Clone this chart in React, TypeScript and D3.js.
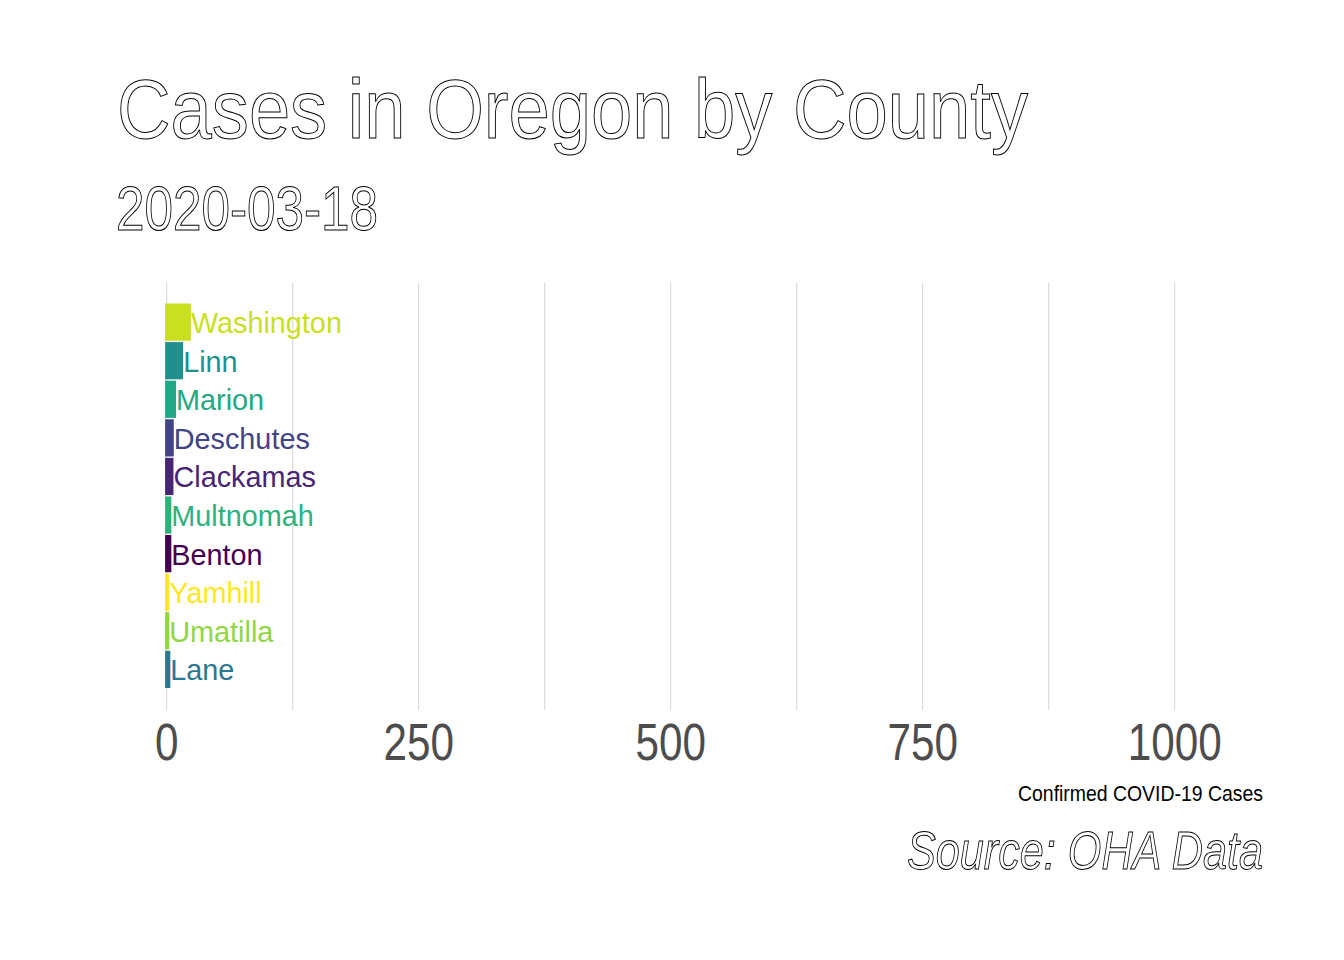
import React from 'react';
import * as d3 from 'd3';

// frame of 2020-03-18, top ten counties by confirmed cases
const counties = ['Washington', 'Linn', 'Marion', 'Deschutes', 'Clackamas', 'Multnomah', 'Benton', 'Yamhill', 'Umatilla', 'Lane'];
const cases = [24, 16.3, 9.3, 7, 6.7, 4.6, 4.6, 2.6, 2.6, 3.6];
const countyColors = ['#c8e020', '#21908d', '#22a884', '#414487', '#482475', '#2db27d', '#440154', '#fde725', '#8fd744', '#2a788e'];
const xTicks = [0, 250, 500, 750, 1000];
const xMinor = [125, 375, 625, 875];

const sans = '"Liberation Sans", Arial, sans-serif';

// no narrow face installed, so condensed text is squeezed to its width
const Narrow = ({ x, y, size, len, anchor = 'start', italic = false, outline = false, fill = '#000', children }: any) => (
    <text
        x={x}
        y={y}
        textAnchor={anchor}
        fontFamily={sans}
        fontSize={size}
        fontStyle={italic ? 'italic' : 'normal'}
        textLength={len}
        lengthAdjust="spacingAndGlyphs"
        fill={outline ? '#fff' : fill}
        stroke={outline ? '#000' : 'none'}
        strokeWidth={outline ? 1 : 0}
    >
        {children}
    </text>
);

const App = () => {
    const width = 1344;
    const height = 960;
    const panelTop = 283;
    const panelBottom = 710;

    const x = d3.scaleLinear().domain([0, 1000]).range([166.7, 1174.7]);
    const y = d3.scaleBand<string>()
        .domain(counties)
        .range([303.5, 688])
        .paddingInner(0.035)
        .paddingOuter(0);

    return (
        <svg width={width} height={height} style={{ position: 'absolute', left: 0, top: 0, background: '#fff' }}>
            <rect width={width} height={height} fill="#fff" />

            {/* title + date, outlined text */}
            <Narrow x={117} y={138} size={83} len={911} outline>Cases in Oregon by County</Narrow>
            <Narrow x={116} y={230} size={63} len={262} outline>2020-03-18</Narrow>

            {/* grid */}
            {xMinor.concat(xTicks).map(t => (
                <line key={'g' + t} x1={x(t)} x2={x(t)} y1={panelTop} y2={panelBottom} stroke="#d6d6d6" strokeWidth={1} />
            ))}

            {/* bars */}
            {counties.map((c, i) => (
                <g key={c}>
                    <rect
                        x={x(0) - 1.6}
                        y={y(c)}
                        width={x(cases[i]) - x(0) + 1.6}
                        height={y.bandwidth()}
                        fill={countyColors[i]}
                    />
                    <text
                        x={x(cases[i])}
                        y={(y(c) as number) + y.bandwidth() / 2}
                        dy="0.38em"
                        fontFamily={sans}
                        fontSize={28.8}
                        fill={countyColors[i]}
                    >
                        {c}
                    </text>
                </g>
            ))}

            {/* x tick labels */}
            {xTicks.map(t => (
                <Narrow key={'t' + t} x={x(t)} y={760} size={51} len={String(t).length * 23.5} anchor="middle" fill="#4d4d4d">
                    {t}
                </Narrow>
            ))}

            <Narrow x={1263} y={801} size={22.5} len={245} anchor="end">Confirmed COVID-19 Cases</Narrow>
            <Narrow x={1263} y={869} size={54} len={356} anchor="end" italic outline>Source: OHA Data</Narrow>
        </svg>
    );
};

export default App;
